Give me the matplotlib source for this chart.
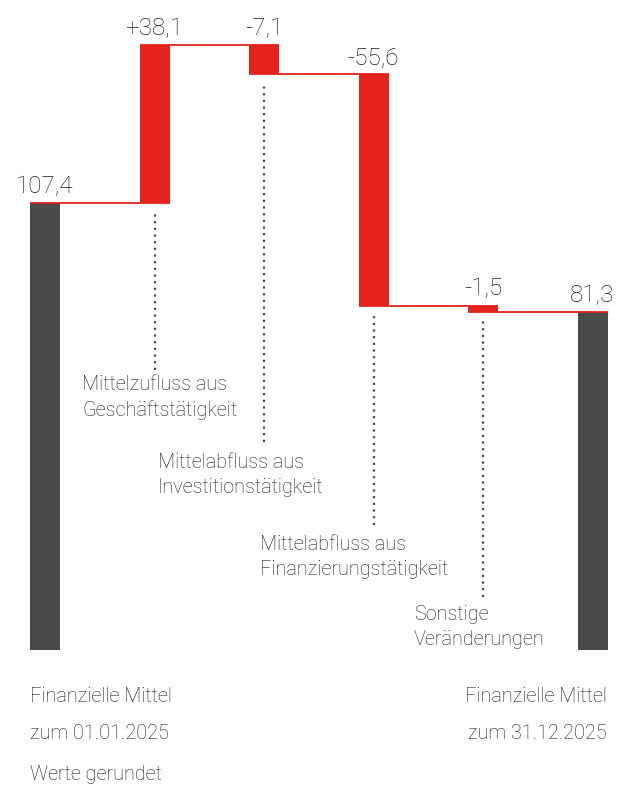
import matplotlib
matplotlib.use("Agg")
import matplotlib.pyplot as plt

categories = ["Finanzielle Mittel\nzum 01.01.2025",
              "Mittelzufluss aus\nGeschäftstätigkeit",
              "Mittelabfluss aus\nInvestitionstätigkeit",
              "Mittelabfluss aus\nFinanzierungstätigkeit",
              "Sonstige\nVeränderungen",
              "Finanzielle Mittel\nzum 31.12.2025"]
values = [107.4, 38.1, -7.1, -55.6, -1.5, 81.3]
value_labels = ["107,4", "+38,1", "-7,1", "-55,6", "-1,5", "81,3"]
note = "Werte gerundet"

RED = "#e3231c"
DARK = "#4a4a48"
TXT = "#1a1a1a"
FONT = ["Roboto", "DejaVu Sans"]
WEIGHT = "light"

fig = plt.figure(figsize=(6.22, 7.85), dpi=100)
ax = fig.add_axes([0, 0, 1, 1])
ax.set_xlim(-0.411, 5.269)
ppu = 4.16
ax.set_ylim(-(785 - 650) / ppu, 650 / ppu)
ax.axis("off")

w = 0.274
bottoms, tops, levels = [], [], []
running = 0.0
for i, v in enumerate(values):
    if i == 0 or i == len(values) - 1:
        b, t = 0.0, v
        running = v
    else:
        b, t = running, running + v
        running = running + v
    bottoms.append(min(b, t))
    tops.append(max(b, t))
    levels.append(running)

for i, v in enumerate(values):
    color = DARK if i in (0, len(values) - 1) else RED
    ax.bar(i, tops[i] - bottoms[i], bottom=bottoms[i], width=w, color=color, linewidth=0, zorder=2)

# connectors
for i in range(len(values) - 1):
    ax.hlines(levels[i], i - w / 2, i + 1 + w / 2, color=RED, lw=1.3, zorder=3)

# value labels
for i, v in enumerate(values):
    ax.text(i, tops[i] + 10 / ppu, value_labels[i], ha="center", va="baseline",
            fontsize=17.5, color=TXT, family=FONT, fontweight=WEIGHT)

px = lambda y: (650 - y) / ppu
lead = [(1, 7, 370, 82, 375), (2, 8, 442, 158, 453), (3, 9, 525, 260, 535), (4, 9, 597, 414, 605)]
for i, gap, yend, tx, ty in lead:
    ax.vlines(i, px(yend), bottoms[i] - gap / ppu, color=DARK, lw=1.6,
              linestyles=(0, (1, 2)), zorder=2)
    xt = (tx - 45) / 109.5
    ax.text(xt, px(ty), categories[i], ha="left", va="top", fontsize=14.3,
            color=TXT, family=FONT, fontweight=WEIGHT, linespacing=1.4)

ax.text((30 - 45) / 109.5, px(687), categories[0], ha="left", va="top", fontsize=14.3,
        color=TXT, family=FONT, fontweight=WEIGHT, linespacing=2.2)
ax.text((607 - 45) / 109.5, px(687), categories[5], ha="right", va="top", fontsize=14.3,
        color=TXT, family=FONT, fontweight=WEIGHT, linespacing=2.2)
ax.text((30 - 45) / 109.5, px(765), note, ha="left", va="top", fontsize=14.3,
        color=TXT, family=FONT, fontweight=WEIGHT)

fig.savefig("out.png", dpi=100)
